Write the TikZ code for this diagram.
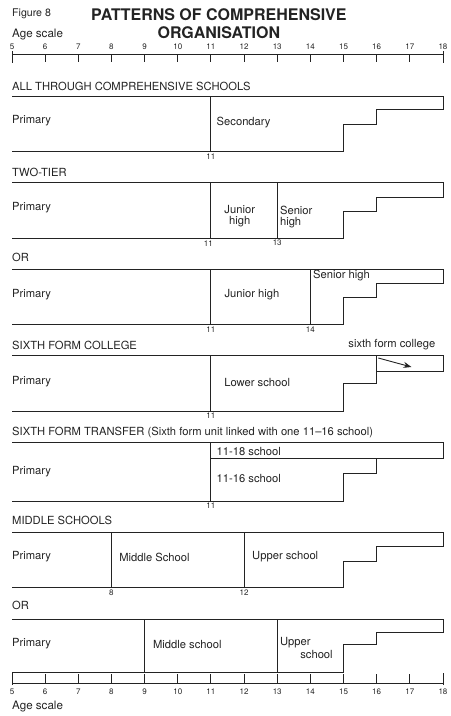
\documentclass[tikz,border=0pt]{standalone}
\usepackage{fontspec}
\setmainfont{TeX Gyre Heros}
\usepackage{xcolor}
\usetikzlibrary{arrows.meta}
\definecolor{FigInk}{RGB}{35,35,35}

\begin{document}
\begin{tikzpicture}[x=33.15pt, y=-1pt,
            hd/.style={anchor=west, inner sep=0pt, text=FigInk,
                       font=\fontsize{11.2}{12}\selectfont},
            lbl/.style={anchor=west, inner sep=0pt, text=FigInk,
                        font=\fontsize{11.2}{11}\selectfont},
            num/.style={inner sep=0pt, text=FigInk, font=\fontsize{8}{8}\selectfont},
            band/.style={draw=FigInk, line width=0.9pt},
            arr/.style={-{Stealth[length=8pt, width=6pt]}, draw=FigInk, line width=0.9pt}
          ]
          \useasboundingbox (4.638,0) rectangle (18.213,716);

          % heading and top scale
          \node[lbl, font=\fontsize{10.6}{11}\selectfont] (fig) at (5,14) {Figure 8};
          \node[inner sep=0pt, align=center, text=FigInk,
                font=\fontsize{16}{18}\selectfont\bfseries]
                (title) at (11.24,24) {PATTERNS OF COMPREHENSIVE\\ORGANISATION};
          \node[lbl, font=\fontsize{11.6}{12}\selectfont] (agetop) at (5,35) {Age scale};
          \draw[band] (5,54) -- (18,54);
          \foreach \a in {6,...,17}
            \draw[band] (\a,54) -- (\a,62);
          \draw[band] (5,51) -- (5,63);
          \draw[band] (18,51) -- (18,63);
          \foreach \a in {5,...,18}
            \node[num] (t\a) at (\a,47) {\a};

          % all through
          \node[hd] (h1) at (5,86) {ALL THROUGH COMPREHENSIVE SCHOOLS};
          \draw[band] (5,96) -- (18,96) -- (18,109) -- (16,109) -- (16,124)
                -- (15,124) -- (15,151) -- (5,151);
          \draw[band] (11,96) -- (11,151);
          \node[lbl] (p1) at (5,121) {Primary};
          \node[lbl] (sec) at (11.17,123) {Secondary};
          \node[num] (a1) at (11,157) {11};

          % two-tier
          \node[hd] (h2) at (5,172) {TWO-TIER};
          \draw[band] (5,182) -- (18,182) -- (18,197) -- (16,197) -- (16,211)
                -- (15,211) -- (15,238) -- (5,238);
          \draw[band] (11,182) -- (11,238);
          \draw[band] (13,182) -- (13,238);
          \node[lbl] (p2) at (5,208) {Primary};
          \node[lbl, anchor=center, align=center] (jh2) at (11.87,216) {Junior\\high};
          \node[lbl, align=left] (sh2) at (13.08,217) {Senior\\high};
          \node[num] (a2) at (10.92,244) {11};
          \node[num] (b2) at (13,243) {13};

          \node[hd] (or1) at (5,257) {OR};
          \draw[band] (5,269) -- (18,269) -- (18,283) -- (16,283) -- (16,297)
                -- (15,297) -- (15,324) -- (5,324);
          \draw[band] (11,269) -- (11,324);
          \draw[band] (14,269) -- (14,324);
          \node[lbl] (p3) at (5,295) {Primary};
          \node[lbl, anchor=center] (jh3) at (12.24,295) {Junior high};
          \node[lbl] (sh3) at (14.08,276) {Senior high};
          \node[num] (a3) at (11,330) {11};
          \node[num] (b3) at (14,330) {14};

          % sixth form college
          \node[hd] (h4) at (5,345) {SIXTH FORM COLLEGE};
          \draw[band] (5,355) -- (18,355) -- (18,371) -- (16,371);
          \draw[band] (16,355) -- (16,383) -- (15,383) -- (15,411) -- (5,411);
          \draw[band] (11,355) -- (11,411);
          \node[lbl] (p4) at (5,382) {Primary};
          \node[lbl] (lw4) at (11.40,382) {Lower school};
          \node[lbl, anchor=center] (sfc) at (16.46,345) {sixth form college};
          \coordinate (sfcfrom) at (16.05,358);
          \coordinate (sfcto) at (17.05,367);
          \draw[arr] (sfcfrom) -- (sfcto);
          \node[num] (a4) at (11,416) {11};

          % sixth form transfer
          \node[hd] (h5) at (5,432)
                {SIXTH FORM TRANSFER (Sixth form unit linked with one 11--16 school)};
          \draw[band] (5,442) -- (18,442) -- (18,458) -- (11,458);
          \draw[band] (16,458) -- (16,473) -- (15,473) -- (15,501) -- (5,501);
          \draw[band] (11,442) -- (11,501);
          \node[lbl] (p5) at (5,472) {Primary};
          \node[lbl] (s18) at (11.17,451) {11-18 school};
          \node[lbl] (s16) at (11.17,478) {11-16 school};
          \node[num] (a5) at (11,506) {11};

          % middle schools
          \node[hd] (h6) at (5,520) {MIDDLE SCHOOLS};
          \draw[band] (5,532) -- (18,532) -- (18,546) -- (16,546) -- (16,561)
                -- (15,561) -- (15,587) -- (5,587);
          \draw[band] (8,532) -- (8,587);
          \draw[band] (12,532) -- (12,587);
          \node[lbl] (p6) at (5,557) {Primary};
          \node[lbl] (m6) at (8.23,557) {Middle School};
          \node[lbl] (u6) at (12.24,557) {Upper school};
          \node[num] (a6) at (8,593) {8};
          \node[num] (b6) at (12,593) {12};

          \node[hd] (or2) at (5,605) {OR};
          \draw[band] (5,619) -- (18,619) -- (18,632) -- (16,632) -- (16,644)
                -- (15,644) -- (15,672) -- (5,672);
          \draw[band] (9,619) -- (9,672);
          \draw[band] (13,619) -- (13,672);
          \node[lbl] (p7) at (5,644) {Primary};
          \node[lbl] (m7) at (9.25,644) {Middle school};
          \node[lbl] (u7a) at (13.08,643) {Upper};
          \node[lbl, anchor=east] (u7b) at (14.68,654) {school};

          % bottom scale
          \draw[band] (5,683) -- (18,683);
          \foreach \a in {6,...,17}
            \draw[band] (\a,674) -- (\a,683);
          \draw[band] (5,673) -- (5,685);
          \draw[band] (18,673) -- (18,685);
          \foreach \a in {5,...,18}
            \node[num] (u\a) at (\a,692) {\a};
          \node[lbl, font=\fontsize{11.6}{12}\selectfont] (agebot) at (5,707) {Age scale};
        \end{tikzpicture}
\end{document}
